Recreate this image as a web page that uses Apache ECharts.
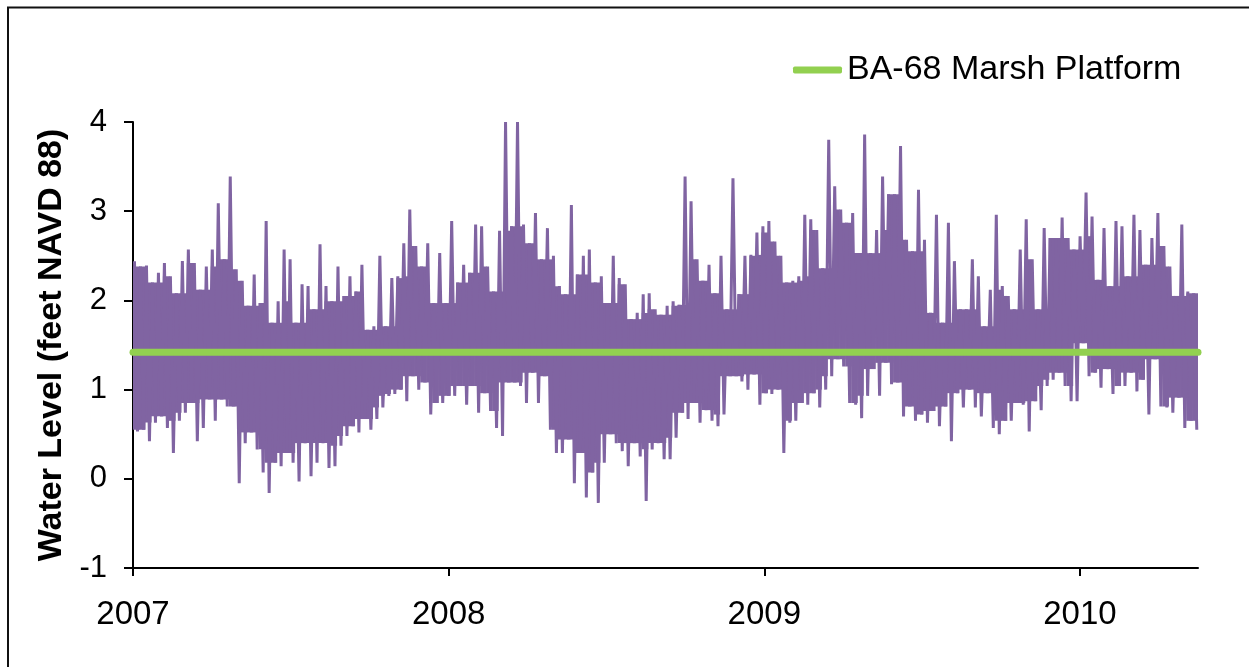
<!DOCTYPE html>
<html>
<head>
<meta charset="utf-8">
<script src="https://cdn.jsdelivr.net/npm/echarts@6/dist/echarts.min.js"></script>
<style>
html,body{margin:0;padding:0;background:#fff;}
#chart{width:1249px;height:667px;}
</style>
</head>
<body>
<div id="chart"></div>
<script>
// Water level, weekly-ish column envelope (feet NAVD 88)
var startYear = 2007;
var colStepYears = 0.01896; // ~6.9 days per column
var weeklyHigh = [
2.44,2.38,2.39,2.20,2.31,2.42,2.27,2.08,2.44,2.57,
2.42,2.12,2.38,2.57,3.09,2.46,3.39,2.35,2.22,1.94,
2.29,1.97,2.89,1.75,1.99,2.57,2.46,1.75,2.18,2.16,
1.90,2.63,2.16,1.99,2.38,2.05,2.27,2.10,2.40,1.67,
1.71,2.50,1.71,2.25,2.27,2.64,3.02,2.61,2.38,2.64,
1.97,2.53,1.97,2.89,2.20,2.40,2.31,2.85,2.83,2.38,
2.10,2.78,4.00,2.83,4.00,2.85,2.64,2.98,2.46,2.81,
2.50,2.16,2.07,3.07,2.29,2.50,2.57,2.20,2.27,1.97,
2.50,2.25,2.18,1.79,1.86,2.07,2.08,1.90,1.84,1.94,
1.99,1.95,3.39,3.11,2.46,2.22,2.40,2.08,2.50,1.90,
3.37,2.07,2.50,2.51,2.76,2.83,2.89,2.66,2.50,2.20,
2.22,2.27,2.96,2.91,2.79,2.36,3.80,3.28,3.02,2.87,
2.98,2.53,3.86,2.53,2.79,3.39,3.19,3.19,3.73,2.68,
2.55,3.24,2.68,1.86,2.96,1.75,2.87,2.44,1.90,1.90,
2.46,2.27,1.71,2.12,2.96,2.16,2.05,1.90,2.57,2.91,
2.46,1.90,2.81,2.70,2.70,2.93,2.70,2.57,2.72,3.21,
2.94,2.23,2.81,2.16,2.89,2.83,2.27,2.96,2.79,2.40,
2.70,2.98,2.61,2.38,2.05,2.85,2.10,2.08
];
var weeklyLow = [
0.53,0.55,0.42,0.63,0.70,0.57,0.29,0.65,0.74,0.85,
0.42,0.57,0.89,0.65,0.89,0.81,0.81,-0.05,0.40,0.52,
0.33,0.07,-0.16,0.18,0.14,0.29,0.18,-0.03,0.40,0.03,
0.18,0.40,0.12,0.14,0.37,0.48,0.59,0.52,0.67,0.55,
0.67,0.80,0.93,0.95,1.00,0.87,1.15,1.00,1.08,0.72,
0.85,0.85,0.93,0.93,1.04,0.83,1.04,0.74,0.96,0.76,
0.57,0.48,1.08,1.08,1.04,0.85,1.19,0.85,1.15,0.55,
0.29,0.29,0.44,-0.05,0.29,-0.21,0.07,-0.27,0.18,0.50,
0.40,0.31,0.14,0.40,0.25,-0.25,0.33,0.40,0.22,0.22,
0.46,0.74,0.67,0.85,0.63,0.77,0.65,0.59,0.72,1.15,
1.15,1.09,1.00,1.17,0.83,0.96,0.95,1.00,0.29,0.63,
0.65,0.85,0.83,0.96,0.80,1.00,1.15,1.34,1.26,0.85,
0.83,0.68,0.93,1.23,0.93,1.30,1.06,1.08,0.70,0.81,
0.65,0.72,0.63,0.76,0.59,0.81,0.42,0.96,0.80,1.00,
0.80,0.70,0.96,0.57,0.50,0.65,0.65,0.85,0.83,0.53,
0.87,0.77,1.04,1.11,1.19,1.04,0.87,0.87,1.52,1.15,
1.19,1.02,1.23,0.95,1.04,1.04,1.19,0.98,1.11,0.72,
1.34,0.81,0.80,0.74,0.91,0.57,0.65,0.55
];
var platformLevel = 1.42;
var yearTicks = [2007, 2008, 2009, 2010];
var endYear = 2010.374;

(function () {
  // zigzag through the weekly highs and lows
  var waterData = [];
  var i, j, k;
  for (i = 0; i < weeklyHigh.length; i++) {
    waterData.push([startYear + (i + 0.25) * colStepYears, weeklyHigh[i]]);
    waterData.push([startYear + (i + 0.75) * colStepYears, weeklyLow[i]]);
  }
  // solid core of the band: range shared by a column and its neighbours
  var coreData = [];
  var cnt = weeklyHigh.length;
  for (j = 0; j < cnt; j++) {
    var coreHi = Infinity, coreLo = -Infinity;
    for (k = Math.max(0, j - 1); k <= Math.min(cnt - 1, j + 1); k++) {
      coreHi = Math.min(coreHi, weeklyHigh[k]);
      coreLo = Math.max(coreLo, weeklyLow[k]);
    }
    coreData.push([startYear + j * colStepYears, coreLo, coreHi]);
  }
  var platformData = [[startYear, platformLevel], [endYear, platformLevel]];

  var PURPLE = '#8064A2';
  var FONT = 'Liberation Sans, Arial, sans-serif';
  var chart = echarts.init(document.getElementById('chart'), null, {renderer: 'canvas'});
  chart.setOption({
    animation: false,
    backgroundColor: '#fff',
    grid: {left: 133, right: 51, top: 122, bottom: 99, containLabel: false},
    legend: {
      left: 793, top: 53, padding: 0,
      itemWidth: 49, itemHeight: 7,
      icon: 'roundRect',
      data: [{name: 'BA-68 Marsh Platform'}],
      textStyle: {fontFamily: FONT, fontSize: 34, color: '#000'}
    },
    xAxis: {
      type: 'value', min: startYear, max: endYear, interval: 1,
      axisLine: {onZero: false, lineStyle: {color: '#000', width: 2}},
      axisTick: {show: true, length: 8, lineStyle: {color: '#000', width: 2}},
      axisLabel: {
        margin: 30, fontFamily: FONT, fontSize: 33, color: '#000',
        showMaxLabel: false,
        formatter: function (v) { return yearTicks.indexOf(Math.round(v * 1000) / 1000) >= 0 ? String(v) : ''; }
      },
      splitLine: {show: false}
    },
    yAxis: {
      type: 'value', min: -1, max: 4, interval: 1,
      name: 'Water Level (feet NAVD 88)',
      nameLocation: 'middle', nameGap: 62,
      nameTextStyle: {fontFamily: FONT, fontSize: 34, fontWeight: 'bold', color: '#000'},
      axisLine: {show: true, lineStyle: {color: '#000', width: 2}},
      axisTick: {show: true, length: 9, lineStyle: {color: '#000', width: 2}},
      axisLabel: {margin: 26, fontFamily: FONT, fontSize: 31, color: '#000'},
      splitLine: {show: false}
    },
    graphic: [{
      type: 'rect', silent: true, z: -1,
      shape: {x: 8, y: 7.5, width: 1300, height: 700},
      style: {fill: 'none', stroke: '#111', lineWidth: 2}
    }],
    series: [{
      name: 'Water Level core',
      type: 'custom',
      data: coreData,
      encode: {x: 0, y: [1, 2]},
      clip: true,
      z: 1,
      renderItem: function (params, api) {
        var x = api.value(0), lo = api.value(1), hi = api.value(2);
        if (!(hi > lo)) return null;
        var p1 = api.coord([x, hi]);
        var p2 = api.coord([x + colStepYears, lo]);
        return {
          type: 'rect',
          shape: {x: p1[0], y: p1[1], width: p2[0] - p1[0] + 0.6, height: p2[1] - p1[1]},
          style: {fill: PURPLE}
        };
      }
    }, {
      name: 'Water Level',
      type: 'line',
      data: waterData,
      showSymbol: false,
      symbol: 'none',
      lineStyle: {color: PURPLE, width: 3, join: 'bevel'},
      itemStyle: {color: PURPLE},
      z: 2
    }, {
      name: 'BA-68 Marsh Platform',
      type: 'line',
      data: platformData,
      showSymbol: false,
      symbol: 'none',
      lineStyle: {color: '#92D050', width: 7, cap: 'round'},
      itemStyle: {color: '#92D050'},
      z: 3
    }]
  });
})();
</script>
</body>
</html>
